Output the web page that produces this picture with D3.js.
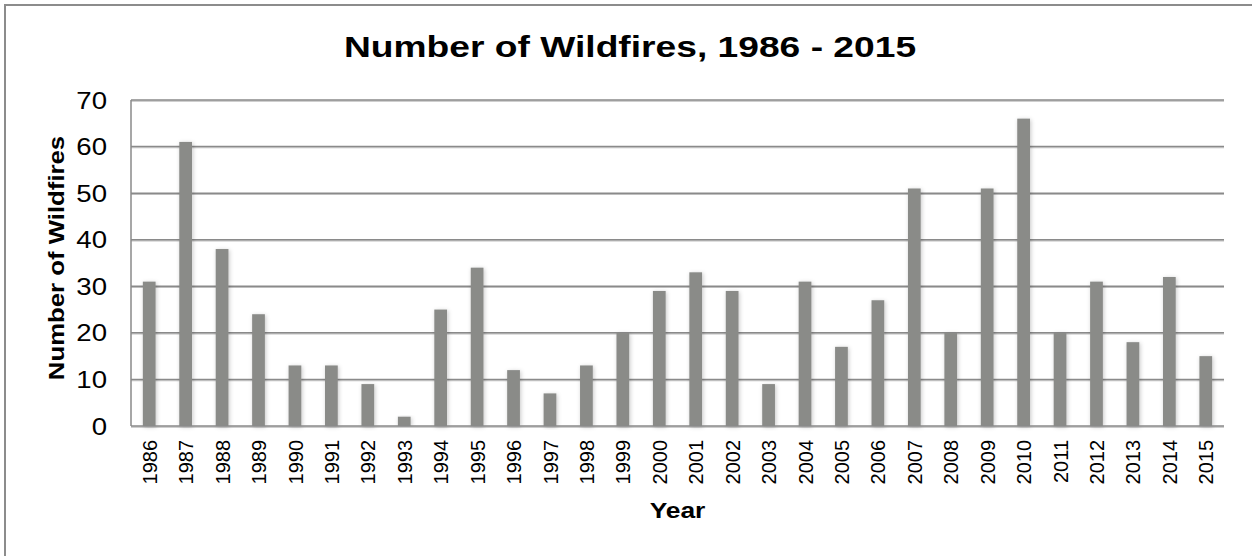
<!DOCTYPE html>
<html>
<head>
<meta charset="utf-8">
<script src="https://cdn.jsdelivr.net/npm/d3@7"></script>
<style>
  html, body { margin: 0; padding: 0; background: #fff; }
  svg text { font-family: "Liberation Sans", Arial, sans-serif; fill: #000; }
</style>
</head>
<body>
<svg id="chart" width="1252" height="556"></svg>
<script>
// data
const years = ["1986","1987","1988","1989","1990","1991","1992","1993","1994","1995",
               "1996","1997","1998","1999","2000","2001","2002","2003","2004","2005",
               "2006","2007","2008","2009","2010","2011","2012","2013","2014","2015"]
const fires = [31, 61, 38, 24, 13, 13, 9, 2, 25, 34,
               12, 7, 13, 20, 29, 33, 29, 9, 31, 17,
               27, 51, 20, 51, 66, 20, 31, 18, 32, 15]
const yTicks = [0, 10, 20, 30, 40, 50, 60, 70]

const W = 1252, H = 556
const plotL = 131, plotR = 1224, plotT = 100, plotB = 426
const midX = 630   // centre used by the title
const stretch = 1.2 // the original text is drawn a bit wider than Arial

const svg = d3.select("#chart")

// soft shadow like the spreadsheet bars
const defs = svg.append("defs")
const glow = defs.append("filter").attr("id", "glow")
  .attr("x", "-60%").attr("y", "-10%").attr("width", "220%").attr("height", "120%")
glow.append("feDropShadow")
  .attr("dx", 1).attr("dy", 1).attr("stdDeviation", 2)
  .attr("flood-color", "#000").attr("flood-opacity", 0.22)

const lineShadow = defs.append("filter").attr("id", "lineShadow")
  .attr("filterUnits", "userSpaceOnUse")
  .attr("x", 0).attr("y", 0).attr("width", W).attr("height", H)
lineShadow.append("feDropShadow")
  .attr("dx", 0).attr("dy", 1).attr("stdDeviation", 0.6)
  .attr("flood-color", "#000").attr("flood-opacity", 0.25)

// outer chart border (left and top visible)
svg.append("rect")
  .attr("x", 5).attr("y", 5)
  .attr("width", W + 10).attr("height", H + 10)
  .attr("fill", "none").attr("stroke", "#8c8c8c").attr("stroke-width", 2)

const x = d3.scaleBand().domain(years).range([plotL, plotR]).paddingInner(0.65).paddingOuter(0.325)
const y = d3.scaleLinear().domain([0, 70]).range([plotB, plotT])

// gridlines
svg.append("g")
  .selectAll("line")
  .data(yTicks.filter(d => d > 0))
  .join("line")
  .attr("x1", plotL).attr("x2", plotR)
  .attr("y1", d => y(d)).attr("y2", d => y(d))
  .attr("stroke", "#8a8a8a").attr("stroke-width", 1.5)
  .attr("filter", "url(#lineShadow)")

// left axis line
svg.append("line")
  .attr("x1", plotL).attr("x2", plotL).attr("y1", plotT).attr("y2", plotB)
  .attr("stroke", "#8a8a8a").attr("stroke-width", 1.5)

// bars
svg.append("g")
  .selectAll("rect")
  .data(fires)
  .join("rect")
  .attr("x", (d, i) => x(years[i]))
  .attr("y", d => y(d))
  .attr("width", x.bandwidth())
  .attr("height", d => y(0) - y(d))
  .attr("fill", "#8a8b88")
  .attr("filter", "url(#glow)")

// base line
svg.append("line")
  .attr("x1", plotL).attr("x2", plotR).attr("y1", plotB).attr("y2", plotB)
  .attr("stroke", "#8a8a8a").attr("stroke-width", 1.5)
  .attr("filter", "url(#lineShadow)")

// y axis
const yAxis = svg.append("g")
  .attr("transform", `translate(${plotL},0)`)
  .call(d3.axisLeft(y).tickValues(yTicks).tickSize(0))
yAxis.select(".domain").remove()
yAxis.selectAll("text")
  .attr("font-size", 23).attr("dy", "0.35em")
  .attr("x", -24 / stretch)
  .attr("transform", `scale(${stretch},1)`)

// x axis
const xAxis = svg.append("g")
  .attr("transform", `translate(0,${plotB})`)
  .call(d3.axisBottom(x).tickSize(0))
xAxis.select(".domain").remove()
xAxis.selectAll("text")
  .attr("font-size", 20)
  .attr("transform", "rotate(-90) scale(1,1.05)")
  .attr("text-anchor", "end")
  .attr("x", -14).attr("y", 0).attr("dy", "0.36em")

// title and axis titles
svg.append("text")
  .attr("transform", `translate(${midX},57) scale(1.24,1)`)
  .attr("text-anchor", "middle")
  .attr("font-size", 30).attr("font-weight", "bold")
  .text("Number of Wildfires, 1986 - 2015")

svg.append("text")
  .attr("transform", `translate(56,${(plotT + plotB) / 2 - 5}) rotate(-90) scale(1.12,1)`)
  .attr("text-anchor", "middle").attr("dy", "0.36em")
  .attr("font-size", 23).attr("font-weight", "bold")
  .text("Number of Wildfires")

svg.append("text")
  .attr("transform", `translate(${(plotL + plotR) / 2},518) scale(${stretch},1)`)
  .attr("text-anchor", "middle")
  .attr("font-size", 22).attr("font-weight", "bold")
  .text("Year")
</script>
</body>
</html>
